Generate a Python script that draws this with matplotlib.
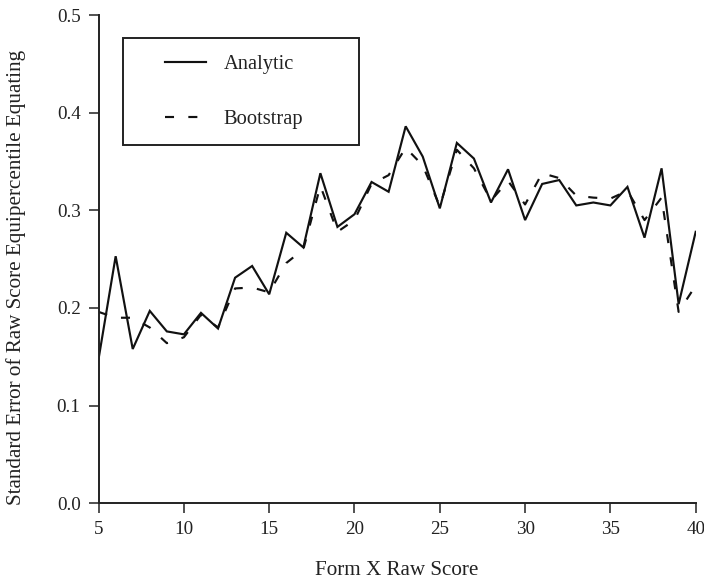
import matplotlib
matplotlib.use("Agg")
import matplotlib.pyplot as plt
from matplotlib.legend_handler import HandlerLine2D

# Raw score points on Form X
raw_score = list(range(5, 41))

# Standard error estimates for each raw score
analytic = [0.148, 0.253, 0.158, 0.197, 0.176, 0.173, 0.195, 0.179, 0.231, 0.243,
            0.214, 0.277, 0.262, 0.338, 0.283, 0.296, 0.329, 0.319, 0.386, 0.355,
            0.302, 0.369, 0.353, 0.308, 0.342, 0.290, 0.327, 0.331, 0.305, 0.308,
            0.305, 0.324, 0.272, 0.343, 0.204, 0.278]
bootstrap = [0.196, 0.190, 0.190, 0.180, 0.164, 0.170, 0.193, 0.180, 0.220, 0.221,
             0.216, 0.246, 0.260, 0.325, 0.278, 0.290, 0.327, 0.336, 0.364, 0.346,
             0.304, 0.362, 0.343, 0.310, 0.330, 0.306, 0.338, 0.333, 0.315, 0.313,
             0.312, 0.320, 0.290, 0.313, 0.196, 0.223]

x_ticks = [5, 10, 15, 20, 25, 30, 35, 40]
y_ticks = [0.0, 0.1, 0.2, 0.3, 0.4, 0.5]

plt.rcParams["font.family"] = ["Liberation Serif", "DejaVu Serif"]
plt.rcParams["lines.scale_dashes"] = False

W, H = 704, 580
fig = plt.figure(figsize=(W / 100, H / 100), dpi=100)
left, right, top, bottom = 98.6, 695.7, 15.0, 503.3
ax = fig.add_axes([left / W, 1 - bottom / H, (right - left) / W, (bottom - top) / H])

lw = 1.55
ax.plot(raw_score, analytic, color="#111111", lw=lw, label="Analytic",
        solid_joinstyle="miter")
ax.plot(raw_score, bootstrap, color="#111111", lw=lw, label="Bootstrap",
        dashes=(6.5, 10.3))

ax.set_xlim(5, 40)
ax.set_ylim(0, 0.5)
ax.set_xticks(x_ticks)
ax.set_yticks(y_ticks)
ax.set_yticklabels([f"{v:.1f}" for v in y_ticks])

for side in ("top", "right"):
    ax.spines[side].set_visible(False)
for side in ("left", "bottom"):
    ax.spines[side].set_linewidth(1.4)
    ax.spines[side].set_color("#222222")

ax.tick_params(axis="both", direction="out", length=7.2, width=1.1,
               colors="#222222", labelsize=13.8, labelcolor="#222222")
ax.tick_params(axis="x", pad=5.5)
ax.tick_params(axis="y", pad=5.8)

ax.set_xlabel("Form X Raw Score", fontsize=15.2, color="#222222", va="baseline")
ax.xaxis.set_label_coords(0.5, (bottom - 575) / (bottom - top))

ax.set_ylabel("Standard Error of Raw Score Equipercentile Equating",
              fontsize=15.2, color="#222222", va="baseline", ha="center",
              rotation_mode="anchor")
ax.yaxis.set_label_coords((20.5 - left) / (right - left), 0.4634)

# Legend box
fs = 14.8
fs_px = fs * 100 / 72
bx0 = (122.7 - left) / (right - left)
bw = (359.3 - 122.7) / (right - left)
by1 = (bottom - 38.3) / (bottom - top)
pad_px = 26.0
handler = HandlerLine2D(marker_pad=pad_px / fs_px, numpoints=2)
leg = ax.legend(loc="upper left", bbox_to_anchor=(bx0, by1 - 0.3, bw, 0.3),
                mode="expand", borderaxespad=0, fontsize=fs, frameon=True,
                fancybox=False, edgecolor="#222222", framealpha=1,
                borderpad=0.8, labelspacing=1.72,
                handlelength=(40.7 + 2 * pad_px) / fs_px,
                handletextpad=-0.40, numpoints=2,
                handler_map={ln: handler for ln in ax.get_lines()})
leg.get_frame().set_linewidth(1.4)
for t in leg.get_texts():
    t.set_color("#222222")

fig.savefig("out.png", dpi=100)
